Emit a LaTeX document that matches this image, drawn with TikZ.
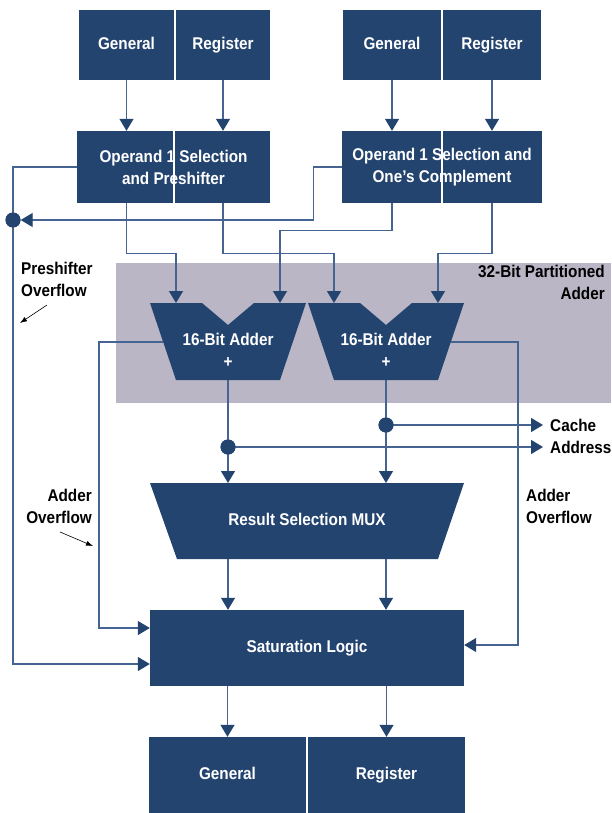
\documentclass[tikz,border=0pt]{standalone}
\usepackage{fontspec}
\setmainfont{Liberation Sans}[FakeStretch=0.9]
\usetikzlibrary{arrows.meta}
\definecolor{hpBlue}{RGB}{36,68,112}
\definecolor{hpLine}{RGB}{70,100,145}
\definecolor{hpGray}{RGB}{186,182,198}

\begin{document}
\begin{tikzpicture}[x=1pt, y=-1pt, >={Triangle[width=14pt,length=12pt,color=hpBlue]},
  regbox/.style={fill=hpBlue, text=white, inner sep=0pt, align=center,
     font=\bfseries\fontsize{17}{22}\selectfont},
  oneline/.style={text height=12pt, text depth=3.5pt},
  opsplit/.style={path picture={\draw[white, line width=2pt]
     (path picture bounding box.north) -- (path picture bounding box.south);}},
  boxtext/.style={text=white, inner sep=0pt, align=center, font=\bfseries\fontsize{17}{22}\selectfont},
  flow/.style={->, line width=1.3pt, hpLine},
  junct/.style={circle, fill=hpBlue, inner sep=0pt, minimum size=15pt},
  note/.style={inner sep=0pt, font=\bfseries\fontsize{17}{22}\selectfont},
  pointer/.style={-{Latex[length=7pt,width=5pt]}, line width=0.6pt, black}]
  \useasboundingbox (0,0) rectangle (611,813);

  % partitioned adder background
  \fill[hpGray] (116,263) rectangle (611,403);
  \node[note, align=right, anchor=north east] (part) at (605,265) {32-Bit Partitioned\\Adder};

  % register file (read)
  \node[regbox, oneline, minimum width=95pt, minimum height=70pt] (genA) at (126.5,45) {General};
  \node[regbox, oneline, minimum width=94pt, minimum height=70pt] (regA) at (223,45)   {Register};
  \node[regbox, oneline, minimum width=98pt, minimum height=70pt] (genB) at (392,45)   {General};
  \node[regbox, oneline, minimum width=98pt, minimum height=70pt] (regB) at (492,45)   {Register};

  % operand selection
  \node[regbox, opsplit, minimum width=193pt, minimum height=72pt] (opA) at (173.5,167)
     {Operand 1 Selection\\and Preshifter};
  \node[regbox, opsplit, minimum width=200pt, minimum height=72pt] (opB) at (442,167)
     {Operand 1 Selection and\\One’s Complement};

  % 16-bit adders
  \fill[hpBlue] (150,303) -- (202,303) -- (228,325) -- (254,303) -- (306,303)
     -- (280,380) -- (176,380) -- cycle;
  \fill[hpBlue] (308,303) -- (360,303) -- (386,325) -- (412,303) -- (464,303)
     -- (438,380) -- (334,380) -- cycle;
  \node[boxtext] (addA) at (228,350) {16-Bit Adder\\+};
  \node[boxtext] (addB) at (386,350) {16-Bit Adder\\+};
  \coordinate (aL1) at (176,303);
  \coordinate (aL2) at (280,303);
  \coordinate (aR1) at (334,303);
  \coordinate (aR2) at (438,303);
  \coordinate (aLout) at (163,342);
  \coordinate (aRout) at (451,342);
  \coordinate (aLbot) at (228,380);
  \coordinate (aRbot) at (386,380);

  % result mux
  \fill[hpBlue] (150,483) -- (464,483) -- (438,559) -- (177,559) -- cycle;
  \node[boxtext, oneline] (mux) at (307,521) {Result Selection MUX};
  \coordinate (muxA) at (228,483);
  \coordinate (muxB) at (386,483);
  \coordinate (muxOutA) at (228,559);
  \coordinate (muxOutB) at (386,559);

  % saturation and write back
  \node[regbox, oneline, minimum width=314pt, minimum height=76pt] (sat) at (307,648) {Saturation Logic};
  \node[regbox, oneline, minimum width=157pt, minimum height=76pt] (genC) at (227.5,775) {General};
  \node[regbox, oneline, minimum width=157pt, minimum height=76pt] (regC) at (386.5,775) {Register};

  % labels
  \node[note, align=left, anchor=north west] (pre) at (21,262) {Preshifter\\Overflow};
  \node[note, align=right, anchor=north east] (ovL) at (92,489) {Adder\\Overflow};
  \node[note, align=left, anchor=north west] (ovR) at (526,489) {Adder\\Overflow};
  \node[note, anchor=west] (cache) at (550,425) {Cache};
  \node[note, anchor=west] (addr) at (550,447) {Address};

  % connectors
  \draw[flow] (genA) -- (genA |- opA.north);
  \draw[flow] (regA) -- (regA |- opA.north);
  \draw[flow] (genB) -- (genB |- opB.north);
  \draw[flow] (regB) -- (regB |- opB.north);

  \draw[flow] (genA |- opA.south) -- ++(0,50) -| (aL1);
  \draw[flow] (regA |- opA.south) -- ++(0,50) -| (aR1);
  \draw[flow] (genB |- opB.south) -- ++(0,27) -| (aL2);
  \draw[flow] (regB |- opB.south) -- ++(0,50) -| (aR2);

  \node[junct] (pdot) at (13,220) {};
  \draw[flow] (opB.west) -| ++(-28,53) -- (pdot.east);
  \draw[flow] (opA.west) -| (pdot.center) |- ([yshift=-16pt]sat.west);
  \draw[flow] (aLout) -- ++(-64,0) |- ([yshift=20pt]sat.west);
  \draw[flow] (aRout) -- ++(67,0) |- ([yshift=3pt]sat.east);

  \node[junct] (dA) at (228,447) {};
  \node[junct] (dB) at (386,425) {};
  \draw[flow] (aLbot) -- (muxA);
  \draw[flow] (aRbot) -- (muxB);
  \draw[flow] (dB.center) -- ([xshift=-7pt]cache.west);
  \draw[flow] (dA.center) -- ([xshift=-7pt]addr.west);
  \node[junct] at (dA) {};
  \node[junct] at (dB) {};
  \node[junct] at (pdot) {};

  \draw[flow] (muxOutA) -- (muxOutA |- sat.north);
  \draw[flow] (muxOutB) -- (muxOutB |- sat.north);
  \draw[flow] (genC |- sat.south) -- (genC.north);
  \draw[flow] (regC |- sat.south) -- (regC.north);

  % pointers
  \coordinate (preFrom) at (47,305);
  \coordinate (preTo) at (20,323);
  \coordinate (ovFrom) at (60,532);
  \coordinate (ovTo) at (93,546);
  \draw[pointer] (preFrom) -- (preTo);
  \draw[pointer] (ovFrom) -- (ovTo);
\end{tikzpicture}
\end{document}
